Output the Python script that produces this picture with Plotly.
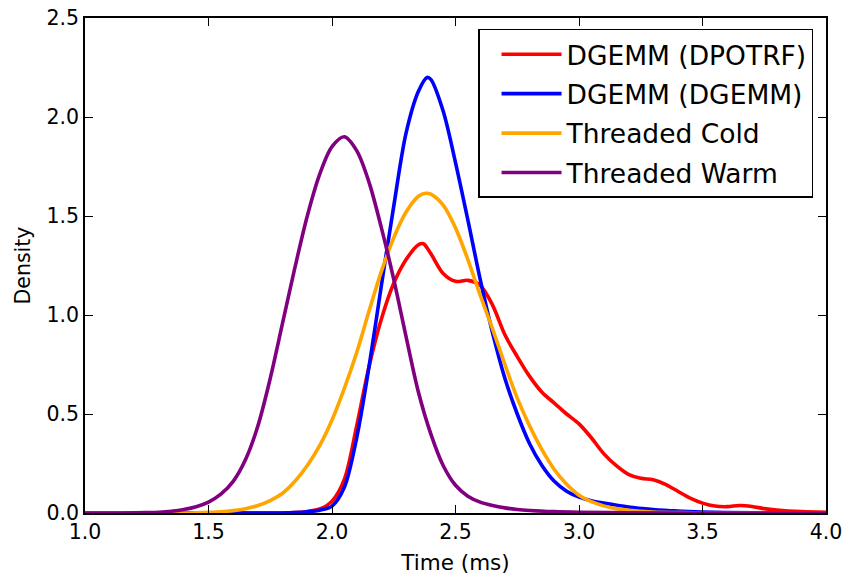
import plotly.graph_objects as go

# Kernel density estimates
x_warm = [1.0, 1.1, 1.2, 1.25, 1.3, 1.35, 1.4, 1.45, 1.5, 1.55, 1.6, 1.65, 1.7, 1.75, 1.8, 1.85,
          1.9, 1.95, 2.0, 2.05, 2.1, 2.15, 2.2, 2.25, 2.3, 2.35, 2.4, 2.45, 2.5, 2.55, 2.6, 2.65,
          2.7, 2.75, 2.8, 2.9, 3.0, 3.2, 3.5, 4.0]
y_warm = [0.0, 0.0, 0.001, 0.002, 0.004, 0.009, 0.018, 0.032, 0.055, 0.095, 0.16, 0.27, 0.44, 0.68, 0.96, 1.24,
          1.50, 1.71, 1.85, 1.90, 1.83, 1.67, 1.44, 1.18, 0.89, 0.61, 0.40, 0.24, 0.14, 0.085, 0.055, 0.038,
          0.026, 0.018, 0.013, 0.007, 0.004, 0.001, 0.0, 0.0]

x_cold = [1.0, 1.4, 1.45, 1.5, 1.55, 1.6, 1.65, 1.7, 1.75, 1.8, 1.85, 1.9, 1.95, 2.0, 2.05, 2.1,
          2.15, 2.2, 2.25, 2.3, 2.35, 2.38, 2.4, 2.45, 2.5, 2.55, 2.6, 2.65, 2.7, 2.75, 2.8, 2.85,
          2.9, 2.95, 3.0, 3.05, 3.1, 3.15, 3.2, 3.3, 3.4, 3.5, 4.0]
y_cold = [0.0, 0.0, 0.001, 0.003, 0.006, 0.012, 0.022, 0.038, 0.063, 0.10, 0.16, 0.24, 0.34, 0.47, 0.63, 0.81,
          1.02, 1.22, 1.39, 1.52, 1.60, 1.615, 1.61, 1.555, 1.44, 1.28, 1.10, 0.93, 0.75, 0.58, 0.44, 0.32,
          0.22, 0.145, 0.09, 0.057, 0.036, 0.022, 0.014, 0.005, 0.002, 0.0, 0.0]

x_dgemm = [1.0, 1.8, 1.85, 1.9, 1.95, 2.0, 2.05, 2.1, 2.15, 2.2, 2.25, 2.3, 2.35, 2.385, 2.4, 2.45,
           2.5, 2.55, 2.6, 2.65, 2.7, 2.75, 2.8, 2.85, 2.9, 2.95, 3.0, 3.05, 3.1, 3.2, 3.3, 3.4,
           3.5, 3.6, 3.8, 4.0]
y_dgemm = [0.0, 0.0, 0.002, 0.006, 0.014, 0.035, 0.13, 0.38, 0.74, 1.15, 1.55, 1.92, 2.13, 2.20, 2.19, 2.03,
           1.77, 1.48, 1.18, 0.91, 0.68, 0.50, 0.35, 0.24, 0.16, 0.11, 0.08, 0.062, 0.05, 0.03, 0.018, 0.01,
           0.005, 0.002, 0.0, 0.0]

x_dpotrf = [1.0, 1.8, 1.85, 1.9, 1.95, 2.0, 2.05, 2.1, 2.15, 2.2, 2.25, 2.3, 2.35, 2.37, 2.4, 2.45,
            2.5, 2.55, 2.6, 2.65, 2.7, 2.75, 2.8, 2.85, 2.9, 2.95, 3.0, 3.05, 3.1, 3.15, 3.2, 3.25,
            3.3, 3.35, 3.4, 3.45, 3.5, 3.55, 3.6, 3.65, 3.7, 3.75, 3.8, 3.9, 4.0]
y_dpotrf = [0.0, 0.0, 0.002, 0.008, 0.02, 0.06, 0.17, 0.44, 0.74, 0.98, 1.16, 1.28, 1.355, 1.36, 1.31, 1.21,
            1.17, 1.175, 1.15, 1.05, 0.90, 0.79, 0.69, 0.61, 0.555, 0.50, 0.45, 0.38, 0.30, 0.24, 0.195, 0.175,
            0.168, 0.145, 0.11, 0.075, 0.05, 0.035, 0.032, 0.038, 0.033, 0.022, 0.015, 0.007, 0.004]

series = [
    ("DGEMM (DPOTRF)", x_dpotrf, y_dpotrf, "#ff0000"),
    ("DGEMM (DGEMM)", x_dgemm, y_dgemm, "#0000ff"),
    ("Threaded Cold", x_cold, y_cold, "#ffa500"),
    ("Threaded Warm", x_warm, y_warm, "#800080"),
]

x_ticks = [1.0, 1.5, 2.0, 2.5, 3.0, 3.5, 4.0]
y_ticks = [0.0, 0.5, 1.0, 1.5, 2.0, 2.5]

fig = go.Figure()
for name, xs, ys, col in series:
    fig.add_trace(go.Scatter(x=xs, y=ys, name=name, mode="lines", legendgroup=name,
                             line=dict(color=col, width=3.6, shape="spline", smoothing=0.9)))

font_family = "DejaVu Sans"
axis_common = dict(showline=True, linecolor="black", linewidth=1.5, mirror="ticks",
                   ticks="inside", ticklen=8, tickwidth=1.2, tickcolor="black",
                   showgrid=False, zeroline=False, automargin=False,
                   tickfont=dict(family=font_family, size=20.5, color="black"),
                   tickformat=".1f")

fig.update_layout(
    width=851, height=579,
    margin=dict(l=85, r=25, t=18, b=66),
    paper_bgcolor="white", plot_bgcolor="white",
    font=dict(family=font_family, color="black"),
    xaxis=dict(range=[1.0, 4.0], tickvals=x_ticks, **axis_common,
               title=dict(text="Time (ms)", font=dict(family=font_family, size=21.5), standoff=12)),
    yaxis=dict(range=[0.0, 2.5], tickvals=y_ticks, **axis_common,
               title=dict(text="Density", font=dict(family=font_family, size=20.5), standoff=10)),
    legend=dict(x=0.9825, y=0.9778, xanchor="right", yanchor="top",
                bordercolor="black", borderwidth=1.5, bgcolor="white",
                font=dict(family=font_family, size=26.5, color="black"),
                itemwidth=60, indentation=17, tracegroupgap=2),
    showlegend=True,
)

fig.write_html("out.html")
